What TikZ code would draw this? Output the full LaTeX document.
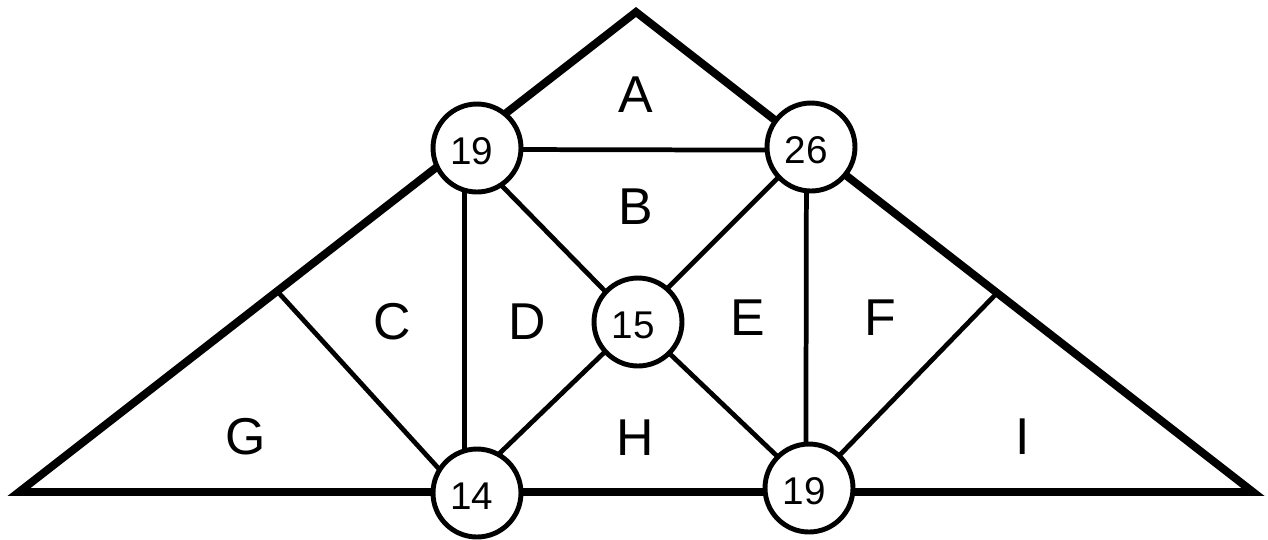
\documentclass[tikz,border=0pt]{standalone}
\usepackage{fontspec}
\setmainfont{Liberation Sans}
\begin{document}
\begin{tikzpicture}[x=0.02cm,y=-0.02cm,
  outerline/.style={line width=4.5pt, line join=miter},
  innerline/.style={line width=2.7pt},
  numcirc/.style={circle, draw, fill=white, line width=2.8pt, minimum size=1.76cm, inner sep=0pt, outer sep=0pt},
  numlab/.style={font=\fontsize{22pt}{24pt}\selectfont, inner sep=0pt, shift={(-5,3)}},
  region/.style={font=\fontsize{29.5pt}{30pt}\selectfont, inner sep=0pt}]
\useasboundingbox (0,0) rectangle (1268,539);
% outer triangle
\coordinate (T) at (636,12);
\coordinate (L) at (19,492);
\coordinate (R) at (1253,492);
\coordinate (cL) at (277,291);
\coordinate (cR) at (997,293);
\draw[outerline] (T) -- (L) -- (R) -- cycle;
% number circles
\node[numcirc, label={[numlab]center:19}] (n19a) at (477,148) {};
\node[numcirc, label={[numlab]center:26}] (n26) at (811,147) {};
\node[numcirc, label={[numlab]center:15}] (n15) at (638,322) {};
\node[numcirc, label={[numlab]center:14}] (n14) at (477,493) {};
\node[numcirc, label={[numlab]center:19}] (n19b) at (809,488) {};
% inner connectors
\draw[innerline] (n19a.-2.5) -- (n26.184);
\draw[innerline] (n19a.-107) -- (n14.107);
\draw[innerline] (n26.-96.5) -- (n19b.94);
\draw[innerline] (n19a.-57) -- (n15.137.6);
\draw[innerline] (n26.-137.5) -- (n15.49.4);
\draw[innerline] (n15.-138.5) -- (n14.61);
\draw[innerline] (n15.-45.9) -- (n19b.135);
\draw[innerline] (cL) -- (n14.148);
\draw[innerline] (cR) -- (n19b.47);
% region labels
\node[region] (lA) at (636,95) {A};
\node[region] (lB) at (636,207) {B};
\node[region] (lC) at (392,322) {C};
\node[region] (lD) at (527,322) {D};
\node[region] (lE) at (748,318) {E};
\node[region] (lF) at (880,318) {F};
\node[region] (lG) at (246,437) {G};
\node[region] (lH) at (635,438) {H};
\node[region] (lI) at (1023,437) {I};
\end{tikzpicture}
\end{document}
